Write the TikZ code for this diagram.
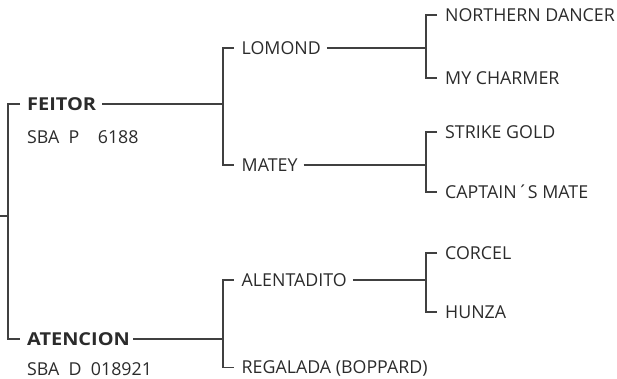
\documentclass[tikz,border=0pt]{standalone}
\usepackage{fontspec}
\setmainfont{Open Sans}
\definecolor{txt}{HTML}{2B2B2B}
\definecolor{ln}{HTML}{404040}
\begin{document}
\begin{tikzpicture}[x=1pt,y=-1pt,
  horse/.style={anchor=west,inner sep=0pt,text height=12.6pt,text depth=0pt,font=\fontsize{17.8}{19}\selectfont,text=txt},
  sire/.style={horse,font=\fontsize{17.8}{19}\selectfont\bfseries\addfontfeature{FakeStretch=1.12}},
  reg/.style={horse},
  conn/.style={draw=ln,line width=1.1pt}]
\useasboundingbox (0,0) rectangle (617,379);
% generation 1
\node[sire] (feitor) at (27,104) {FEITOR};
\node[reg] (feitorreg) at (27,137) {SBA\ \ P\ \ \ \ 6188};
\node[sire] (atencion) at (27,339) {ATENCION};
\node[reg] (atencionreg) at (27,368.8) {SBA\ \ D\ \ 018921};
% generation 2
\node[horse] (lomond) at (241.5,48) {LOMOND};
\node[horse] (matey) at (241.5,165) {MATEY};
\node[horse] (alentadito) at (241.5,280) {ALENTADITO};
\node[horse] (regalada) at (241.5,367.5) {REGALADA (BOPPARD)};
% generation 3
\node[horse] (nd) at (445,15) {NORTHERN DANCER};
\node[horse] (mc) at (445,78) {MY CHARMER};
\node[horse] (sg) at (445,132) {STRIKE GOLD};
\node[horse] (cm) at (445,192) {CAPTAIN\kern1pt´S MATE};
\node[horse] (corcel) at (445,253) {CORCEL};
\node[horse] (hunza) at (445,312) {HUNZA};
% joints
\coordinate (root) at (0,216);
\coordinate (j0) at (8,216);
\coordinate (j1) at (223,104);
\coordinate (j2) at (223,339);
\coordinate (j3) at (426,48);
\coordinate (j4) at (426,165);
\coordinate (j5) at (426,280);
% connectors
\draw[conn] (root) -- (j0);
\draw[conn] ([xshift=-7pt]feitor.west) -| (j0) |- ([xshift=-7pt]atencion.west);
\draw[conn] ([xshift=6pt]feitor.east) -- (j1);
\draw[conn] ([xshift=3pt]atencion.east) -- (j2);
\draw[conn] ([xshift=-8pt]lomond.west) -| (j1) |- ([xshift=-8pt]matey.west);
\draw[conn] ([xshift=-8pt]alentadito.west) -| (j2) |- ([xshift=-8pt]regalada.west);
\draw[conn] ([xshift=6pt]lomond.east) -- (j3);
\draw[conn] ([xshift=6pt]matey.east) -- (j4);
\draw[conn] ([xshift=6pt]alentadito.east) -- (j5);
\draw[conn] ([xshift=-8pt]nd.west) -| (j3) |- ([xshift=-8pt]mc.west);
\draw[conn] ([xshift=-8pt]sg.west) -| (j4) |- ([xshift=-8pt]cm.west);
\draw[conn] ([xshift=-8pt]corcel.west) -| (j5) |- ([xshift=-8pt]hunza.west);
\end{tikzpicture}
\end{document}
